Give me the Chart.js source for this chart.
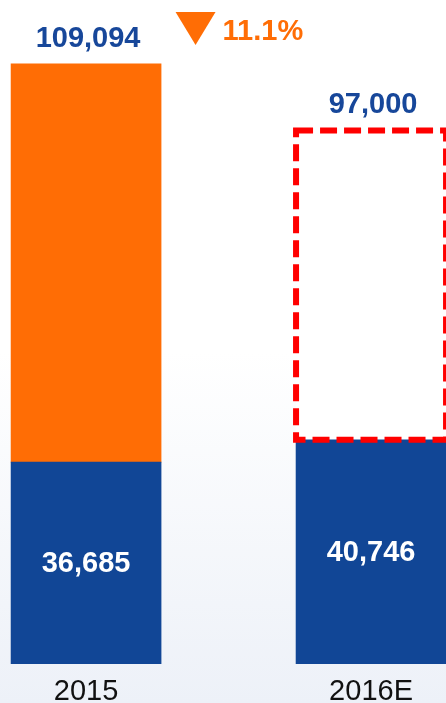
<!DOCTYPE html>
<html>
<head>
<meta charset="utf-8">
<script src="https://cdn.jsdelivr.net/npm/chart.js@4"></script>
<style>
  html, body { margin: 0; padding: 0; }
  body {
    width: 446px; height: 703px; overflow: hidden;
    background: linear-gradient(to bottom, #ffffff 0%, #ffffff 50%, #edf1f8 100%);
  }
</style>
</head>
<body>
<canvas id="myCanvas" width="446" height="703"></canvas>
<script>
const years = ['2015', '2016E'];
const baseValues = [36685, 40746];     // blue part
const totalValues = [109094, 97000];   // label above the stack
const isForecast = [false, true];

const topValues = totalValues.map((t, i) => t - baseValues[i]);
const actualTop = topValues.map((v, i) => isForecast[i] ? null : v);
const forecastTop = topValues.map((v, i) => isForecast[i] ? v : null);
const points = (arr) => arr.map((v, i) => ({ x: i, y: v }));

const BLUE = '#114696';
const ORANGE = '#ff6d05';
const LABEL_BLUE = '#17479a';
const FONT = '"Liberation Sans", Arial, sans-serif';

const fmt = (n) => n.toLocaleString('en-US');

const annotations = {
  id: 'annotations',
  afterDatasetsDraw(chart) {
    const ctx = chart.ctx;
    const xs = chart.scales.x;
    const ys = chart.scales.y;

    // dashed outline for the forecast part
    chart.getDatasetMeta(2).data.forEach((bar, i) => {
      if (forecastTop[i] == null) return;
      const p = bar.getProps(['x', 'y', 'base', 'width'], true);
      ctx.save();
      ctx.strokeStyle = '#ff0000';
      ctx.lineWidth = 6;
      ctx.setLineDash([17, 7]);
      ctx.strokeRect(p.x - p.width / 2, p.y, p.width, p.base - p.y);
      ctx.restore();
    });

    ctx.save();
    ctx.font = 'bold 29px ' + FONT;
    ctx.textAlign = 'center';

    // white numbers inside the blue bars
    ctx.fillStyle = '#ffffff';
    ctx.textBaseline = 'middle';
    chart.getDatasetMeta(0).data.forEach((bar, i) => {
      const p = bar.getProps(['x', 'y', 'base'], true);
      ctx.fillText(fmt(baseValues[i]), p.x, (p.y + p.base) / 2 + 1);
    });

    // totals above the stacks
    ctx.fillStyle = LABEL_BLUE;
    ctx.textBaseline = 'alphabetic';
    totalValues.forEach((t, i) => {
      ctx.fillText(fmt(t), xs.getPixelForValue(i) + 2, ys.getPixelForValue(t) - 17);
    });

    // change marker
    const pct = (totalValues[0] - totalValues[1]) / totalValues[0] * 100;
    const mid = (xs.getPixelForValue(0) + xs.getPixelForValue(1)) / 2;
    const triLeft = mid - 53;
    ctx.fillStyle = ORANGE;
    ctx.beginPath();
    ctx.moveTo(triLeft, 12);
    ctx.lineTo(triLeft + 40, 12);
    ctx.lineTo(triLeft + 20, 45);
    ctx.closePath();
    ctx.fill();
    ctx.textAlign = 'left';
    ctx.fillText(pct.toFixed(1) + '%', triLeft + 47, 40);
    ctx.restore();
  }
};

new Chart(document.getElementById('myCanvas').getContext('2d'), {
  type: 'bar',
  data: {
    datasets: [
      { data: points(baseValues), backgroundColor: BLUE },
      { data: points(actualTop), backgroundColor: ORANGE },
      { data: points(forecastTop), backgroundColor: '#ffffff' }
    ]
  },
  options: {
    responsive: false,
    animation: false,
    devicePixelRatio: 1,
    layout: { padding: 0 },
    datasets: {
      bar: { barThickness: 150, borderWidth: 0 }
    },
    plugins: { legend: { display: false }, tooltip: { enabled: false } },
    scales: {
      x: {
        type: 'linear',
        stacked: true,
        offset: false,
        bounds: 'data',
        min: -0.302,
        max: 1.263,
        grid: { display: false, drawTicks: false, offset: false },
        border: { display: false },
        afterBuildTicks(scale) {
          scale.ticks = years.map((y, i) => ({ value: i }));
        },
        ticks: {
          autoSkip: false,
          maxRotation: 0,
          color: '#111111',
          font: { family: FONT, size: 29 },
          padding: 11,
          callback: (v) => years[v] ?? ''
        },
        afterFit(scale) { scale.height = 39; }
      },
      y: {
        stacked: true,
        display: false,
        min: 0,
        max: 120700
      }
    }
  },
  plugins: [annotations]
});
</script>
</body>
</html>
